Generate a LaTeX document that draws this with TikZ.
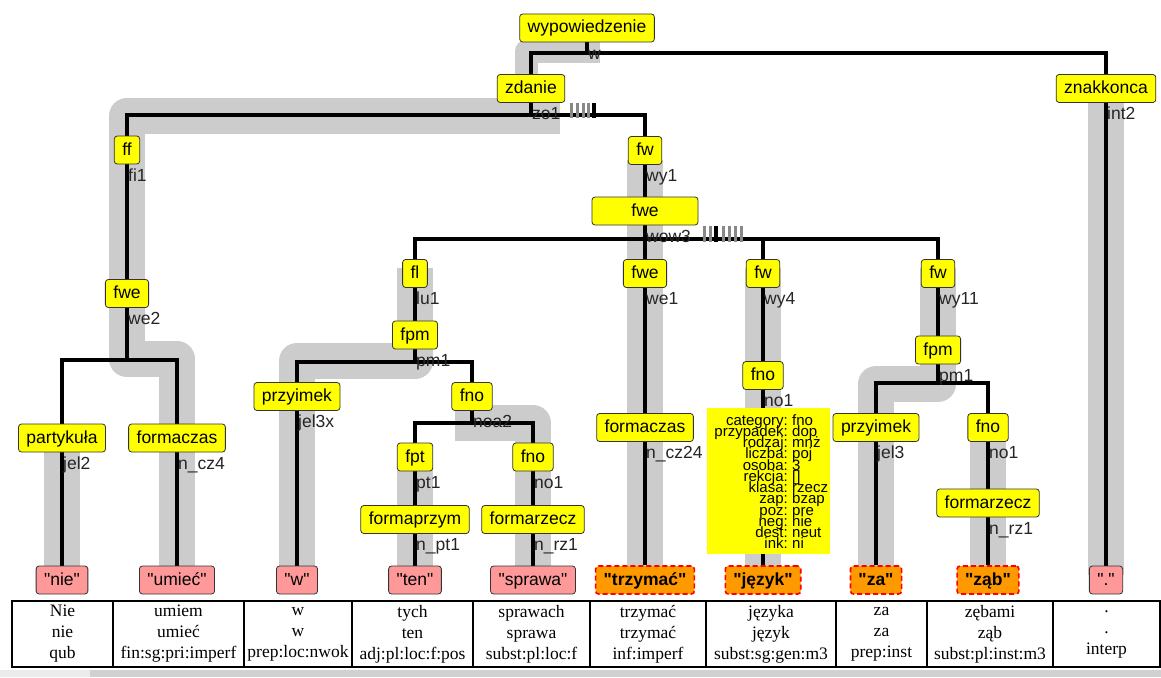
\documentclass[tikz,border=0pt]{standalone}
\usepackage{fontspec}
\setmainfont{Liberation Serif}
\newfontfamily\treefont{Liberation Sans}[Ligatures=TeXOff]
\usepackage{xcolor}
\usetikzlibrary{positioning}

\definecolor{synyellow}{HTML}{FFFF00}
\definecolor{synborder}{HTML}{333333}
\definecolor{leafpink}{HTML}{FF9999}
\definecolor{leaforange}{HTML}{FF9900}
\definecolor{headgray}{HTML}{CCCCCC}
\definecolor{tickgray}{HTML}{888888}

\pgfdeclarelayer{bands}
\pgfdeclarelayer{edges}
\pgfsetlayers{bands,edges,main}

\begin{document}
\begin{tikzpicture}[x=1pt, y=-1pt,
    cat/.style={draw=synborder, fill=synyellow, rounded corners=3pt, line width=0.8pt,
      inner xsep=8pt, inner ysep=3pt, minimum height=28pt,
      text height=13.5pt, text depth=3.5pt, font=\treefont\fontsize{17.5}{20}\selectfont},
    leaf/.style={cat, fill=leafpink},
    headleaf/.style={cat, fill=leaforange, draw=red, dash pattern=on 5pt off 3pt, line width=1.6pt,
      font=\treefont\bfseries\fontsize{17.5}{20}\selectfont},
    lbl/.style={anchor=base west, inner sep=0pt, text=black!85, font=\treefont\fontsize{17.5}{20}\selectfont},
    edge/.style={line width=3.2pt},
    head/.style={headgray, line width=36pt, line join=round},
    featkey/.style={anchor=base east, inner sep=0pt, font=\treefont\fontsize{15}{11}\selectfont},
    featval/.style={anchor=base west, inner sep=0pt, font=\treefont\fontsize{15}{11}\selectfont},
    cell/.style={align=center, inner sep=0pt, font=\rmfamily\fontsize{17.5}{21}\selectfont}]
  \useasboundingbox (0,0) rectangle (1161,677);

  % categories
  \node[cat] (wyp) at (587,28) {wypowiedzenie};
  \node[cat] (zdanie) at (531,88.5) {zdanie};
  \node[cat] (znak) at (1106,88.5) {znakkonca};
  \node[cat] (ff) at (127,150) {ff};
  \node[cat] (fw1) at (645,150.5) {fw};
  \node[cat, minimum width=106pt] (fweA) at (645,211) {fwe};
  \node[cat] (fweL) at (127,293.5) {fwe};
  \node[cat] (fl) at (415,273.5) {fl};
  \node[cat] (fweM) at (645,273.5) {fwe};
  \node[cat] (fw4) at (763,273.5) {fw};
  \node[cat] (fw11) at (938,273.5) {fw};
  \node[cat] (fpmL) at (415,335) {fpm};
  \node[cat] (fpmR) at (938,350) {fpm};
  \node[cat] (fno4) at (763,375.5) {fno};
  \node[cat] (przL) at (297,396.5) {przyimek};
  \node[cat] (fnoA) at (472,396.5) {fno};
  \node[cat] (fczM) at (645,427.5) {formaczas};
  \node[cat] (przR) at (876,427.5) {przyimek};
  \node[cat] (fnoR) at (988,427.5) {fno};
  \node[cat] (part) at (62,438) {partykuła};
  \node[cat] (fczL) at (177,438) {formaczas};
  \node[cat] (fpt) at (415,457) {fpt};
  \node[cat] (fnoB) at (533,457) {fno};
  \node[cat] (fprz) at (415,519.5) {formaprzym};
  \node[cat] (frz) at (533,519.5) {formarzecz};
  \node[cat] (frzR) at (988,503) {formarzecz};

  % terminals
  \node[leaf] (nie) at (62,580) {"nie"};
  \node[leaf] (umiec) at (177,580) {"umieć"};
  \node[leaf] (leafw) at (297,580) {"w"};
  \node[leaf] (ten) at (415,580) {"ten"};
  \node[leaf] (sprawa) at (533,580) {"sprawa"};
  \node[headleaf] (trzymac) at (645,580) {"trzymać"};
  \node[headleaf] (jezyk) at (763,580) {"język"};
  \node[headleaf] (za) at (876,580) {"za"};
  \node[headleaf] (zab) at (988,580) {"ząb"};
  \node[leaf] (dot) at (1106,580) {"."};

  % rule labels
  \foreach \n/\t in {wyp/w, zdanie/zo1, znak/int2, ff/fi1, fw1/wy1, fweA/wow3, fweL/we2,
      fl/lu1, fweM/we1, fw4/wy4, fw11/wy11, fpmL/pm1, fpmR/pm1, fno4/no1, przL/jel3x,
      fnoA/noa2, fczM/n\_cz24, przR/jel3, fnoR/no1, part/jel2, fczL/n\_cz4, fpt/pt1,
      fnoB/no1, fprz/n\_pt1, frz/n\_rz1, frzR/n\_rz1}
    \node[lbl] (\n-lab) at ([xshift=1pt, yshift=-17pt]\n.south) {\t};

  % feature structure of fno
  \node[fill=synyellow, inner sep=0pt, minimum width=123pt, minimum height=146pt] (feat) at (768.5,481) {};
  \foreach \k/\v [count=\i from 0] in {category/fno, przypadek/dop, rodzaj/mnż, liczba/poj,
      osoba/3, rekcja/{[]}, klasa/rzecz, zap/bzap, poz/pre, neg/nie, dest/neut, ink/ni} {
    \node[featkey] (key\i) at (788,425+11.27*\i) {\k:};
    \node[featval] (val\i) at (792,425+11.27*\i) {\v};
  }

  % bar levels
  \coordinate (bw) at (0,53);
  \coordinate (bz) at (0,115);
  \coordinate (bA) at (0,239);
  \coordinate (bL) at (0,360);
  \coordinate (bP) at (0,362);
  \coordinate (bN) at (0,423);
  \coordinate (bR) at (0,383);

  \begin{pgfonlayer}{bands}
    \fill[white] (0,0) rectangle (1161,677);
    \draw[head, line width=23pt] (600,51.5) -- (526,51.5) -- (526,80);
    \draw[head] (560,116) -- (127,116) -- (127,359) -- (177,359) -- (177,575);
    \draw[head] (645,160) -- (645,575);
    \draw[head] (415,268) -- (415,361) -- (297,361) -- (297,575);
    \draw[head] (455,423) -- (533,423) -- (533,575);
    \draw[head] (415,465) -- (415,575);
    \draw[head] (763,268) -- (763,575);
    \draw[head] (938,268) -- (938,384) -- (876,384) -- (876,575);
    \draw[head] (988,440) -- (988,575);
    \draw[head] (1106,100) -- (1106,575);
    \draw[head] (62,445) -- (62,575);
  \end{pgfonlayer}

  \begin{pgfonlayer}{edges}
    \draw[edge] (wyp) -- (wyp |- bw);
    \draw[edge] (zdanie) |- (znak |- bw) -- (znak);
    \draw[edge] (zdanie) -- (zdanie |- bz);
    \draw[edge] (ff) |- (fw1 |- bz) -- (fw1);
    \draw[edge] (ff) -- (fweL) -- (fweL |- bL);
    \draw[edge] (part) |- (fczL |- bL) -- (fczL);
    \draw[edge] (part) -- (nie);
    \draw[edge] (fczL) -- (umiec);
    \draw[edge] (fw1) -- (fweA) -- (fweM);
    \draw[edge] (fl) |- (fw11 |- bA) -- (fw11);
    \draw[edge] (fw4) -- (fw4 |- bA);
    \draw[edge] (fl) -- (fpmL) -- (fpmL |- bP);
    \draw[edge] (przL) |- (fnoA |- bP) -- (fnoA);
    \draw[edge] (przL) -- (leafw);
    \draw[edge] (fnoA) -- (fnoA |- bN);
    \draw[edge] (fpt) |- (fnoB |- bN) -- (fnoB);
    \draw[edge] (fpt) -- (fprz) -- (ten);
    \draw[edge] (fnoB) -- (frz) -- (sprawa);
    \draw[edge] (fweM) -- (fczM) -- (trzymac);
    \draw[edge] (fw4) -- (fno4) -- (jezyk);
    \draw[edge] (fw11) -- (fpmR) -- (fpmR |- bR);
    \draw[edge] (przR) |- (fnoR |- bR) -- (fnoR);
    \draw[edge] (przR) -- (za);
    \draw[edge] (fnoR) -- (frzR) -- (zab);
    \draw[edge] (znak) -- (dot);
  \end{pgfonlayer}

  % ticks
  \foreach \x in {571.7,577.7,583.3,588} \draw[tickgray, line width=3pt] (\x,103) -- (\x,118);
  \draw[line width=4.5pt] (594,103) -- (594,118);
  \foreach \x in {704,710.5,723,729,735,741} \draw[tickgray, line width=3pt] (\x,226) -- (\x,242);
  \draw[line width=4pt] (716,226) -- (716,242);

  % token table
  \draw[line width=1.5pt] (12,601) rectangle (1160,667);
  \foreach \x in {113,244,352,473,590,706,836,927,1053} \draw[line width=1.5pt] (\x,601) -- (\x,667);
  \foreach \x/\t [count=\i] in {62.5/{Nie\\nie\\qub}, 178.5/{umiem\\umieć\\fin:sg:pri:imperf},
      298/{w\\w\\prep:loc:nwok}, 412.5/{tych\\ten\\adj:pl:loc:f:pos},
      531.5/{sprawach\\sprawa\\subst:pl:loc:f}, 648/{trzymać\\trzymać\\inf:imperf},
      771/{języka\\język\\subst:sg:gen:m3}, 881.5/{za\\za\\prep:inst},
      990/{zębami\\ząb\\subst:pl:inst:m3}, 1106.5/{.\\.\\interp}}
    \node[cell] (tok\i) at (\x,634) {\t};
  \fill[black!8] (0,670) rectangle (90,677);
  \fill[black!18] (90,670) rectangle (1161,677);
\end{tikzpicture}
\end{document}
